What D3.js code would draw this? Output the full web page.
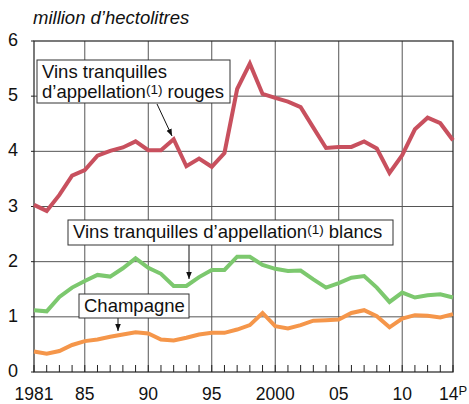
<!DOCTYPE html>
<script src="https://d3js.org/d3.v7.min.js"></script>
<style>
    html, body { margin: 0; background: white; }
    text { font-family: "Liberation Sans", Arial, sans-serif; fill: #111; }
</style>
<body></body>
<script>
    // DATA
    const years = d3.range(1981, 2015);
    const rouges = [3.03, 2.92, 3.21, 3.56, 3.66, 3.92, 4.01, 4.07, 4.18, 4.02,
                    4.02, 4.22, 3.73, 3.87, 3.72, 3.97, 5.13, 5.59, 5.04, 4.97,
                    4.90, 4.80, 4.43, 4.06, 4.08, 4.08, 4.18, 4.05, 3.61, 3.93,
                    4.40, 4.61, 4.51, 4.20];
    const blancs = [1.12, 1.10, 1.36, 1.53, 1.65, 1.76, 1.73, 1.88, 2.06, 1.89,
                    1.78, 1.56, 1.56, 1.72, 1.85, 1.85, 2.09, 2.09, 1.94, 1.87,
                    1.83, 1.84, 1.68, 1.53, 1.61, 1.71, 1.74, 1.53, 1.27, 1.44,
                    1.35, 1.39, 1.41, 1.35];
    const champagne = [0.37, 0.33, 0.38, 0.49, 0.56, 0.59, 0.64, 0.68, 0.72, 0.70,
                       0.59, 0.57, 0.62, 0.68, 0.71, 0.71, 0.77, 0.85, 1.07, 0.83,
                       0.79, 0.85, 0.93, 0.94, 0.95, 1.07, 1.12, 1.01, 0.81, 0.97,
                       1.03, 1.02, 0.99, 1.05];
    const xTickYears = [1981, 1985, 1990, 1995, 2000, 2005, 2010, 2014];
    const xTickLabels = ["1981", "85", "90", "95", "2000", "05", "10", "14"];
    const yTicks = [0, 1, 2, 3, 4, 5, 6];

    const width = 469, height = 404;
    const pLeft = 34, pRight = 453, pTop = 41, pBottom = 372;

    const svg = d3.select("body").append("svg")
        .attr("width", width)
        .attr("height", height);

    const x = d3.scaleLinear().domain([1981, 2014]).range([pLeft, pRight]);
    const y = d3.scaleLinear().domain([0, 6]).range([pBottom, pTop]);

    // grid
    svg.append("g").selectAll("line").data(yTicks.slice(1, 6)).join("line")
        .attr("x1", pLeft).attr("x2", pRight)
        .attr("y1", d => y(d)).attr("y2", d => y(d))
        .attr("stroke", "#555").attr("stroke-width", 1);
    svg.append("g").selectAll("line").data([1985, 1990, 1995, 2000, 2005, 2010]).join("line")
        .attr("x1", d => x(d)).attr("x2", d => x(d))
        .attr("y1", pTop).attr("y2", pBottom)
        .attr("stroke", "#555").attr("stroke-width", 1);

    // frame
    svg.append("rect")
        .attr("x", pLeft).attr("y", pTop)
        .attr("width", pRight - pLeft).attr("height", pBottom - pTop)
        .attr("fill", "none").attr("stroke", "#222").attr("stroke-width", 1.2);

    // yearly ticks on the bottom, pointing up
    svg.append("g").selectAll("line").data(years).join("line")
        .attr("x1", d => x(d)).attr("x2", d => x(d))
        .attr("y1", pBottom).attr("y2", pBottom - 7)
        .attr("stroke", "#222").attr("stroke-width", 1);

    // y ticks
    svg.append("g").selectAll("line").data(yTicks).join("line")
        .attr("x1", pLeft - 3).attr("x2", pLeft)
        .attr("y1", d => y(d)).attr("y2", d => y(d))
        .attr("stroke", "#222");
    svg.append("g").selectAll("text").data(yTicks).join("text")
        .attr("x", 13).attr("y", d => y(d) + 5)
        .attr("text-anchor", "middle")
        .attr("font-size", 18)
        .text(d => d);

    // x labels
    const xl = svg.append("g").selectAll("text").data(xTickYears).join("text")
        .attr("x", d => x(d)).attr("y", 400)
        .attr("text-anchor", "middle")
        .attr("font-size", 17.5)
        .text((d, i) => xTickLabels[i]);
    xl.filter(d => d === 2014).append("tspan")
        .attr("font-size", 13).attr("dy", -5).text("P");

    // title
    svg.append("text")
        .attr("x", 33).attr("y", 24)
        .attr("font-size", 18.5).attr("font-style", "italic")
        .text("million d\u2019hectolitres");

    // lines
    const series = [
        { values: rouges, color: "#c8505e" },
        { values: blancs, color: "#7cc86e" },
        { values: champagne, color: "#f5964a" }
    ];
    const line = d3.line().x((d, i) => x(years[i])).y(d => y(d));
    svg.append("g").selectAll("path").data(series).join("path")
        .attr("d", d => line(d.values))
        .attr("fill", "none")
        .attr("stroke", d => d.color)
        .attr("stroke-width", 4)
        .attr("stroke-linejoin", "miter");

    // arrow head marker
    svg.append("defs").append("marker")
        .attr("id", "ah")
        .attr("viewBox", "0 0 10 10")
        .attr("refX", 10).attr("refY", 5)
        .attr("markerWidth", 7).attr("markerHeight", 7)
        .attr("orient", "auto")
        .append("path").attr("d", "M0,1 L10,5 L0,9 Z").attr("fill", "#111");

    // boxed labels with arrows; one text element per box, lines as tspans
    function label(bx, by, bw, bh, lines, ax1, ay1, ax2, ay2) {
        svg.append("line")
            .attr("x1", ax1).attr("y1", ay1).attr("x2", ax2).attr("y2", ay2)
            .attr("stroke", "#111").attr("stroke-width", 1)
            .attr("marker-end", "url(#ah)");
        svg.append("rect")
            .attr("x", bx).attr("y", by).attr("width", bw).attr("height", bh)
            .attr("fill", "white").attr("stroke", "#333").attr("stroke-width", 1);
        const t = svg.append("text")
            .attr("x", bx + 5).attr("y", by + 18)
            .attr("font-size", 18.5);
        lines.forEach((parts, i) => {
            let dy = i === 0 ? 0 : 20;
            parts.forEach((p, j) => {
                const ts = t.append("tspan");
                if (j === 0 && i > 0) ts.attr("x", bx + 5);
                if (p === "(1)") {
                    ts.attr("font-size", 13.5).attr("dy", dy - 4).text("(1)");
                    dy = 4;
                } else {
                    ts.attr("dy", dy).text(p);
                    dy = 0;
                }
            });
        });
    }

    label(37, 60, 193, 43,
        [["Vins tranquilles"], ["d\u2019appellation", "(1)", " rouges"]],
        157, 104, 172, 136);
    label(68, 220, 325, 25,
        [["Vins tranquilles d\u2019appellation", "(1)", " blancs"]],
        189, 245, 189, 279);
    label(79, 294, 110, 24,
        [["Champagne"]],
        118, 318, 118, 331);
</script>
